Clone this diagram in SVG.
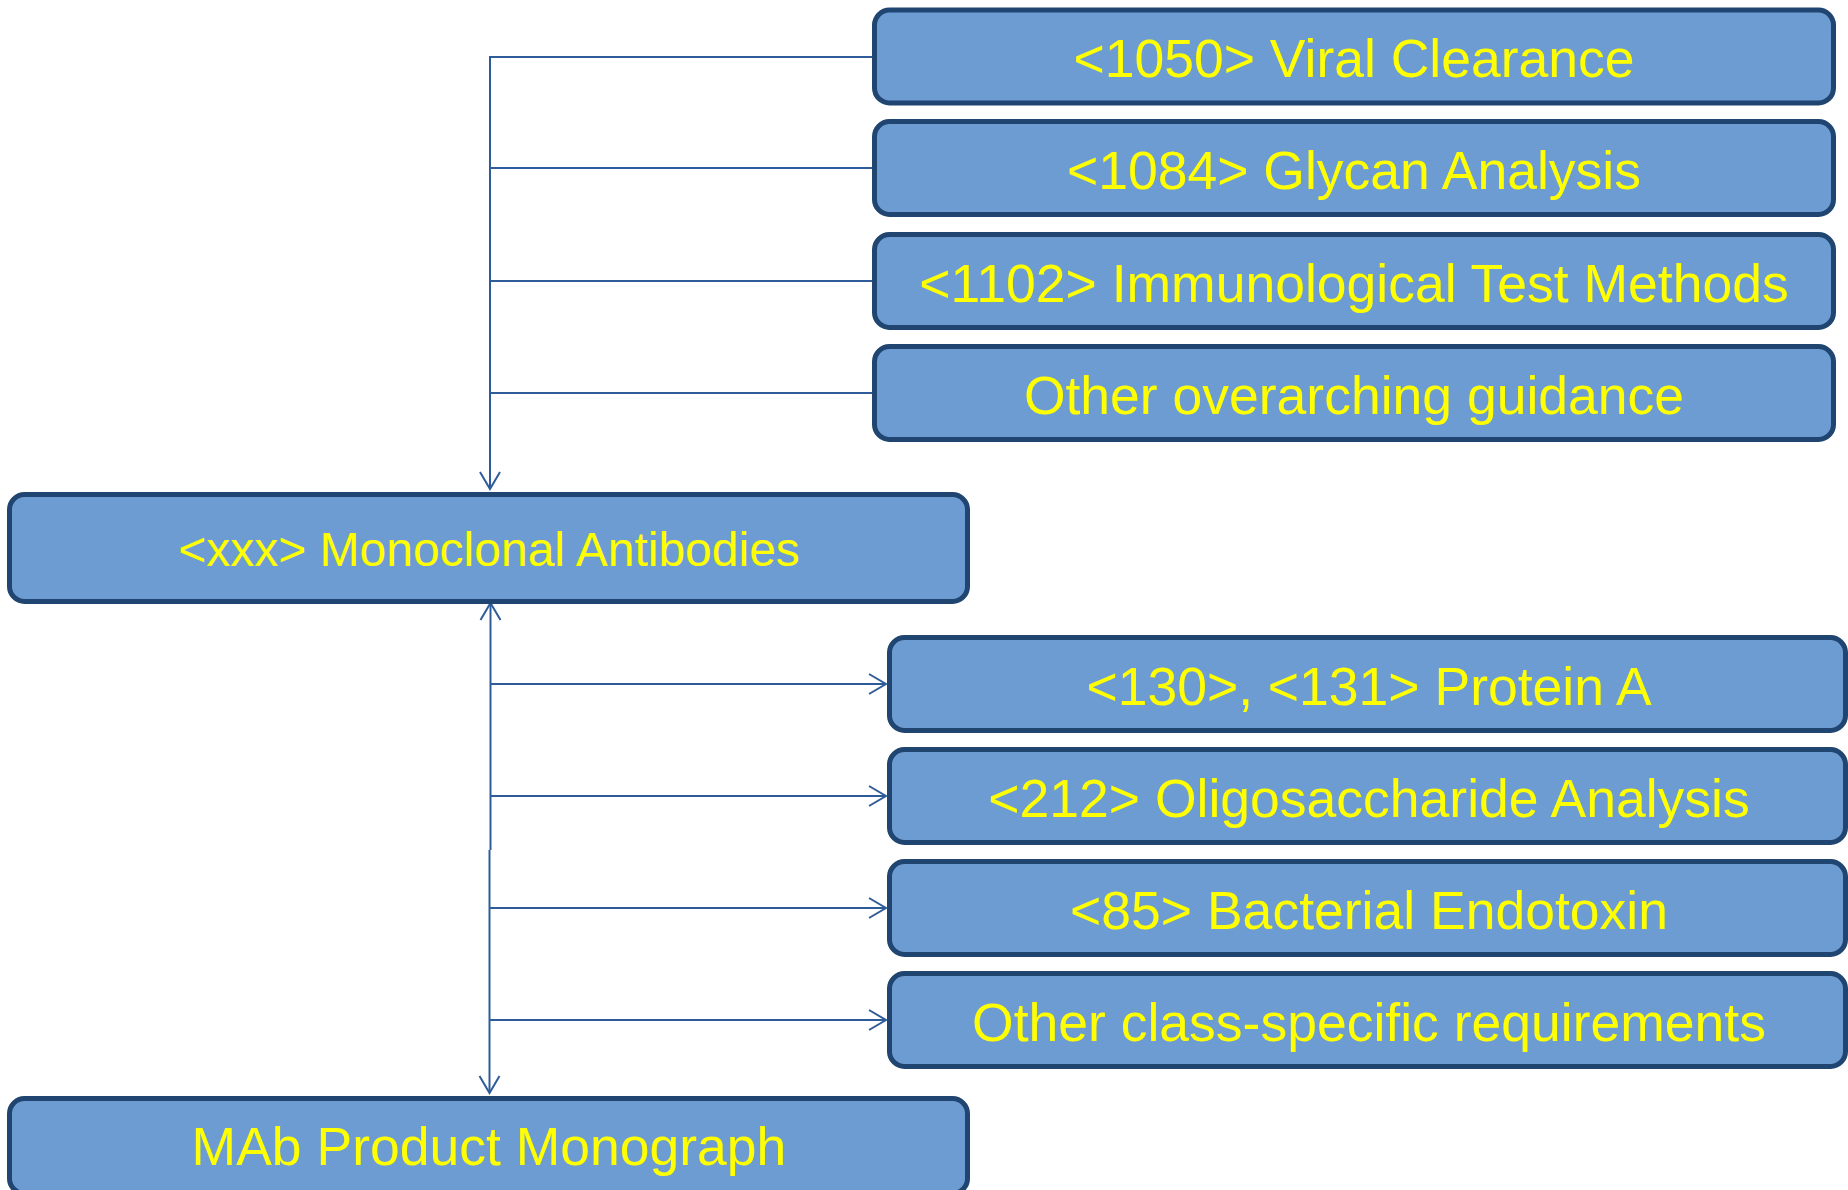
<svg xmlns="http://www.w3.org/2000/svg" width="1848" height="1190" viewBox="0 0 1848 1190">
<style>
.box{fill:#6D9CD3;stroke:#1F4570;stroke-width:5}
.lbl{font-family:"Liberation Sans",Arial,sans-serif;font-size:53.5px;fill:#FFFF00;text-anchor:middle}
.con{fill:none;stroke:#2E5C9A;stroke-width:2}
</style>
<defs>
<marker id="arr" viewBox="-20 -12 22 24" refX="0" refY="0" markerWidth="22" markerHeight="24" markerUnits="userSpaceOnUse" orient="auto">
<path d="M-17,-10 L0,0 L-17,10" fill="none" stroke="#2E5C9A" stroke-width="2"/>
</marker>
</defs>
<rect width="1848" height="1190" fill="#FFFFFF"/>
<g id="connectors">
<path class="con" d="M872,57 H490 V489" marker-end="url(#arr)"/>
<path class="con" d="M872,168 H490"/>
<path class="con" d="M872,281 H490"/>
<path class="con" d="M872,393 H490"/>
<path class="con" d="M490.5,850 V603" marker-end="url(#arr)"/>
<path class="con" d="M489.5,850 V1093" marker-end="url(#arr)"/>
<path class="con" d="M490,684 H886" marker-end="url(#arr)"/>
<path class="con" d="M490,796 H886" marker-end="url(#arr)"/>
<path class="con" d="M490,908 H886" marker-end="url(#arr)"/>
<path class="con" d="M490,1020 H886" marker-end="url(#arr)"/>
</g>
<g id="n1050"><rect class="box" x="874.5" y="10" width="959" height="93" rx="15"/><text class="lbl" x="1354" y="77">&lt;1050&gt; Viral Clearance</text></g>
<g id="n1084"><rect class="box" x="874.5" y="121.5" width="959" height="93" rx="15"/><text class="lbl" x="1354" y="188.5">&lt;1084&gt; Glycan Analysis</text></g>
<g id="n1102"><rect class="box" x="874.5" y="234.5" width="959" height="93" rx="15"/><text class="lbl" x="1354" y="301.5">&lt;1102&gt; Immunological Test Methods</text></g>
<g id="nOverarching"><rect class="box" x="874.5" y="346.5" width="959" height="93" rx="15"/><text class="lbl" x="1354" y="413.5">Other overarching guidance</text></g>
<g id="nMonoclonal"><rect class="box" x="9.5" y="494.5" width="958" height="107" rx="15"/><text class="lbl" x="489" y="566" style="font-size:48px">&lt;xxx&gt; Monoclonal Antibodies</text></g>
<g id="n130"><rect class="box" x="889.5" y="637.5" width="956" height="93" rx="15"/><text class="lbl" x="1369" y="704.5">&lt;130&gt;, &lt;131&gt; Protein A</text></g>
<g id="n212"><rect class="box" x="889.5" y="749.5" width="956" height="93" rx="15"/><text class="lbl" x="1369" y="816.5">&lt;212&gt; Oligosaccharide Analysis</text></g>
<g id="n85"><rect class="box" x="889.5" y="861.5" width="956" height="93" rx="15"/><text class="lbl" x="1369" y="928.5">&lt;85&gt; Bacterial Endotoxin</text></g>
<g id="nClassSpecific"><rect class="box" x="889.5" y="973.5" width="956" height="93" rx="15"/><text class="lbl" x="1369" y="1040.5">Other class-specific requirements</text></g>
<g id="nMAb"><rect class="box" x="9.5" y="1098.5" width="958" height="95" rx="15"/><text class="lbl" x="489" y="1165">MAb Product Monograph</text></g>
</svg>
